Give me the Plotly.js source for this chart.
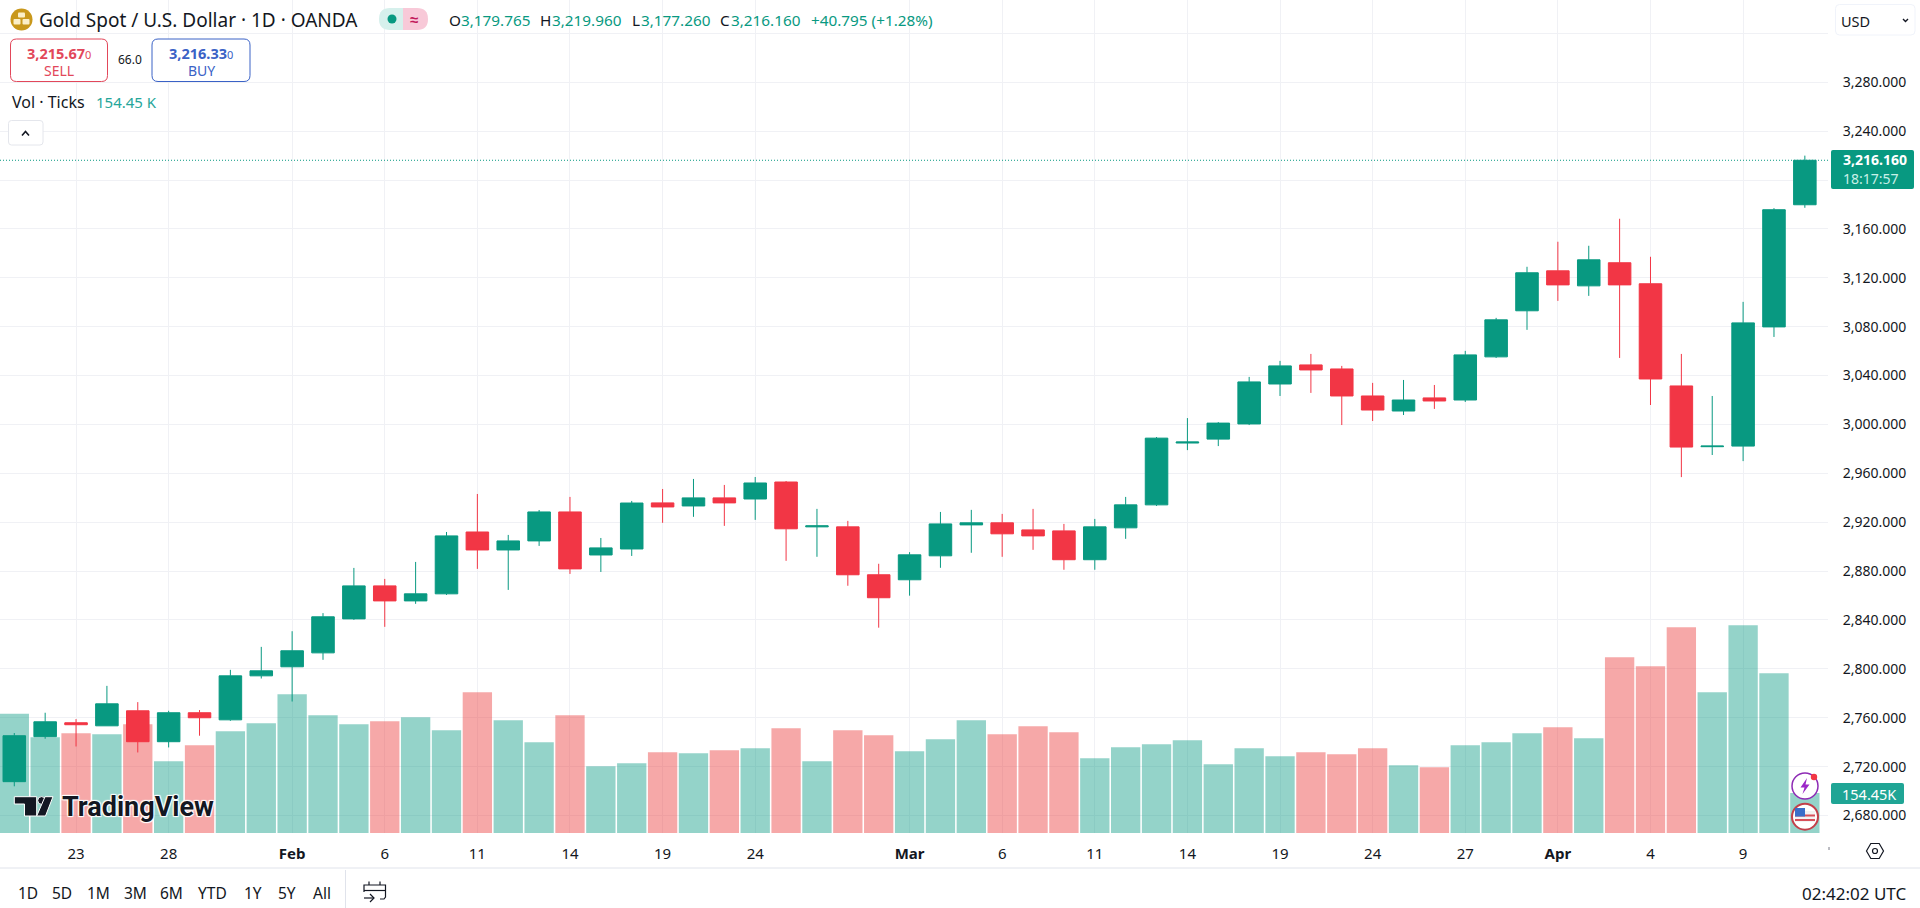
<!DOCTYPE html>
<html>
<head>
<meta charset="utf-8">
<script src="https://cdn.plot.ly/plotly-3.0.1.min.js"></script>
<style>html,body{margin:0;padding:0;background:#fff;overflow:hidden}#c{width:1920px;height:908px}</style>
</head>
<body>
<div id="c"></div>
<script>
const dates = ["Jan 21","Jan 22","Jan 23","Jan 24","Jan 27","Jan 28","Jan 29","Jan 30","Jan 31","Feb 3","Feb 4","Feb 5","Feb 6","Feb 7","Feb 10","Feb 11","Feb 12","Feb 13","Feb 14","Feb 17","Feb 18","Feb 19","Feb 20","Feb 21","Feb 24","Feb 25","Feb 26","Feb 27","Feb 28","Mar 3","Mar 4","Mar 5","Mar 6","Mar 7","Mar 10","Mar 11","Mar 12","Mar 13","Mar 14","Mar 17","Mar 18","Mar 19","Mar 20","Mar 21","Mar 24","Mar 25","Mar 26","Mar 27","Mar 28","Mar 31","Apr 1","Apr 2","Apr 3","Apr 4","Apr 7","Apr 8","Apr 9","Apr 10","Apr 11"];
const opens = [2707.7,2744.5,2755.9,2753.4,2765.7,2740.4,2764.1,2758.3,2794.3,2801.7,2813.1,2840.9,2867.9,2855.6,2861.4,2912,2897.3,2904.7,2928.4,2893.2,2898.1,2935.8,2933.3,2939.9,2939,2952.9,2916.2,2916.2,2877,2872.9,2892.5,2917.8,2919.5,2913.7,2912.9,2889.3,2915.4,2934.2,2984.8,2988,3000.4,3033.1,3048.7,3045.4,3023.3,3011,3021.7,3020,3055.3,3093,3125.7,3113.4,3132.3,3115.1,3031.5,2981.8,2982.3,3079.8,3179.765];
const highs = [2747.5,2764.1,2758.9,2786.1,2772.8,2765.7,2766.3,2799.2,2818,2830.8,2845.6,2882.6,2873.6,2887.5,2912,2943.1,2909.6,2930,2940.7,2907.1,2937.4,2947.2,2955.4,2950.5,2957,2953.7,2930.9,2921.1,2886,2895.5,2928.4,2930.1,2926.8,2930.9,2918.6,2922.7,2940.7,2989.7,3005.2,3001.9,3038.9,3052,3057.7,3047.9,3034,3036.4,3032.3,3060.2,3087.2,3129,3149.5,3146.2,3168.3,3137.2,3057.7,3023.3,3100.3,3177,3219.96];
const lows = [2703.9,2742.8,2736.5,2753.4,2731.6,2735.7,2745.3,2757.5,2792.1,2773.3,2807.4,2840.1,2834.4,2853.2,2860.5,2881.8,2864.6,2900.6,2877.7,2879.3,2892.4,2919.5,2924.4,2917,2921.9,2888.4,2891.7,2868,2833.7,2859.9,2882.7,2895,2891.7,2897.4,2881.1,2881.1,2906.4,2933.3,2979,2982.3,2999.5,3023.3,3025.8,2999.5,3002.8,3007.7,3012.7,3018.4,3054.4,3077.4,3101.1,3105.2,3054.4,3015.9,2956.9,2975,2970,3071.6,3177.26];
const closes = [2745.3,2756.7,2754.3,2771.4,2740.4,2764.1,2760,2794.3,2798.4,2814.8,2842.6,2867.9,2855.6,2861.4,2908.8,2897.3,2904.7,2928.4,2881.8,2899,2935.7,2932.5,2939.9,2935.8,2952.1,2914.6,2917,2877,2858.2,2893.3,2918.6,2919.5,2910.5,2908.8,2889.3,2916.2,2934.2,2988.8,2985.6,3001.1,3034.8,3047.9,3044.6,3023.3,3011.8,3020,3019.2,3056.9,3085.6,3124.1,3114.2,3134.7,3114.2,3037.2,2981.5,2982.3,3083.1,3175.7,3216.16];
const volumes = [460.6,369.3,384.7,380.9,419.5,276.6,338.4,392.4,423.3,535.3,454.2,419.5,431,446.5,396.3,543,434.9,350,454.2,257.3,268.9,311.4,307.5,319.1,326.8,404,276.6,396.3,377,315.2,361.6,434.9,380.9,411.7,388.6,288.2,330.7,342.3,357.7,265.1,326.8,295.9,311.4,303.7,326.8,261.2,253.5,338.4,350,384.7,407.9,365.4,678.1,643.4,793.9,543,801.6,616.3,154.45];
const xTickDates = ["Jan 23","Jan 28","Feb 3","Feb 6","Feb 11","Feb 14","Feb 19","Feb 24","Mar 3","Mar 6","Mar 11","Mar 14","Mar 19","Mar 24","Mar 27","Apr 1","Apr 4","Apr 9"];
const xTickLabels = ["23","28","<b>Feb</b>","6","11","14","19","24","<b>Mar</b>","6","11","14","19","24","27","<b>Apr</b>","4","9"];
const priceTicks = [2680,2720,2760,2800,2840,2880,2920,2960,3000,3040,3080,3120,3160,3200,3240,3280,3320];
const priceLabels = ["2,680.000","2,720.000","2,760.000","2,800.000","2,840.000","2,880.000","2,920.000","2,960.000","3,000.000","3,040.000","3,080.000","3,120.000","3,160.000","","3,240.000","3,280.000",""];
const ranges = ["1D","5D","1M","3M","6M","YTD","1Y","5Y","All"];
const rangeCenters = [27.8,62.4,98.8,135,171,212.6,252.6,287,321.6];
const lastPrice = 3216.16;

const GREEN="#089981",RED="#F23645",INK="#131722",GRID="#F0F1F5";
const FONT='"Noto Sans", sans-serif';
const PW=1828,PH=833;
const px=x=>x/PW, py=y=>1-y/PH;
const P=(x,y)=>px(x)+','+py(y);
const pathS=(d,fill,line,lw)=>({type:'path',xref:'paper',yref:'paper',path:d,fillcolor:fill||'rgba(0,0,0,0)',line:{color:line||'rgba(0,0,0,0)',width:lw===undefined?(line?1:0):lw},layer:'above'});
const rrPath=(x0,y0,x1,y1,r)=>`M${P(x0+r,y0)} L${P(x1-r,y0)} Q${P(x1,y0)} ${P(x1,y0+r)} L${P(x1,y1-r)} Q${P(x1,y1)} ${P(x1-r,y1)} L${P(x0+r,y1)} Q${P(x0,y1)} ${P(x0,y1-r)} L${P(x0,y0+r)} Q${P(x0,y0)} ${P(x0+r,y0)} Z`;
const rr=(x0,y0,x1,y1,r,fill,line,lw)=>pathS(rrPath(x0,y0,x1,y1,r),fill,line,lw);
const poly=(pts,fill,line,lw,open)=>pathS('M'+pts.map(p=>P(p[0],p[1])).join(' L')+(open?'':' Z'),fill,line,lw);
const circ=(cx,cy,r,fill,line,lw)=>({type:'circle',xref:'paper',yref:'paper',x0:px(cx-r),x1:px(cx+r),y0:py(cy+r),y1:py(cy-r),fillcolor:fill||'rgba(0,0,0,0)',line:{color:line||'rgba(0,0,0,0)',width:lw===undefined?(line?1:0):lw},layer:'above'});
const T=(text,x,y,size,color,anchor,extra)=>Object.assign({xref:'paper',yref:'paper',x:px(x),y:py(y),text,showarrow:false,xanchor:anchor||'left',yanchor:'middle',borderpad:0,font:Object.assign({family:FONT,size,color},extra||{})});

const volColors = closes.map((c,i)=>c>=opens[i]?'rgba(8,153,129,0.43)':'rgba(235,62,62,0.45)');

const traces=[
 {type:'bar',x:dates,y:volumes,xaxis:'x',yaxis:'y',marker:{color:volColors,line:{width:0}},hoverinfo:'skip',showlegend:false},
 {type:'candlestick',x:dates,open:opens,high:highs,low:lows,close:closes,xaxis:'x',yaxis:'y2',whiskerwidth:0,
  increasing:{line:{color:GREEN,width:1},fillcolor:GREEN},decreasing:{line:{color:RED,width:1},fillcolor:RED},hoverinfo:'skip',showlegend:false}
];

const shapes=[
 {type:'line',xref:'paper',yref:'y2',x0:0,x1:1,y0:lastPrice,y1:lastPrice,line:{color:GREEN,width:1,dash:'1px,2px'},layer:'above'},
 // price and volume tags
 rr(1831,150,1914,189,2,GREEN),
 rr(1831,783,1904,804,2,'#1FA595'),
 // frame
 poly([[0,868],[1920,868]],null,'#E0E3EB',1,true),
 poly([[345.5,870],[345.5,908]],null,'#E0E3EB',1,true),
 // logo
 circ(21.5,19.5,11,'#C9981B'),
 rr(18,12.5,25,17.5,1,'#FBEFC8'),rr(13.5,19,20.5,24.5,1,'#FBEFC8'),rr(22.5,19,29.5,24.5,1,'#FBEFC8'),
 // status pill
 pathS(`M${P(390,8)} L${P(403,8)} L${P(403,30)} L${P(390,30)} Q${P(379,30)} ${P(379,19)} Q${P(379,8)} ${P(390,8)} Z`,'#D6F0EC'),
 pathS(`M${P(403,8)} L${P(417,8)} Q${P(428,8)} ${P(428,19)} Q${P(428,30)} ${P(417,30)} L${P(403,30)} Z`,'#F8C9D8'),
 circ(392,19,4.5,GREEN),
 // order buttons
 rr(10.5,39,107.5,81.5,6,'#fff','#E2475A',1),
 rr(152,39,250,81.5,6,'#fff','#3A62C6',1),
 // collapse button
 rr(8.5,120.5,43,145,3,'#fff','#E4E6EC',1),
 poly([[22,135.5],[25.5,131.5],[29,135.5]],null,INK,1.6,true),
 // currency button
 rr(1835.5,4.5,1915,35,4,'#fff','#F0F3FA',1),
 poly([[1903,19],[1905.5,21.5],[1908,19]],null,INK,1.4,true),
 // watermark
 poly([[14.3,796.7],[36.7,796.7],[36.7,816],[24.5,816],[24.5,804],[14.3,804]],INK,'#fff',1),
 circ(41.6,800.5,3.9,INK,'#fff',1),
 poly([[45,796.7],[53,796.7],[45.5,816],[36.7,816]],INK,'#fff',1),
 // event icons
 circ(1805,786,13,'#fff','#8E2CB5',1.5),
 poly([[1807,778],[1800.5,787.5],[1804.5,787.5],[1802.5,794],[1809.5,784.5],[1805.5,784.5]],'#9C27C8'),
 circ(1814,777,3.2,'#F23645'),
 circ(1805,816.7,13,'#fff','#C2404A',2),
 rr(1795,811,1815,822,0,'#F3F3F3'),
 rr(1795,814.5,1815,816.5,0,'#D8505A'),rr(1795,819,1815,821,0,'#D8505A'),
 rr(1795,808,1805,816.5,0,'#3A6EC9'),
 // settings hexagon
 poly([[1866.5,851],[1870.8,843.5],[1879.2,843.5],[1883.5,851],[1879.2,858.5],[1870.8,858.5]],null,INK,1.2),
 circ(1875,851,2.5,null,INK,1.2),
 poly([[1829,847],[1829,850]],null,'#787B86',1,true),
 // calendar icon
 poly([[380,899],[384,899],[385.5,897],[385.5,885],[364,885],[364,892]],null,INK,1.2,true),
 poly([[364,890.5],[385.5,890.5]],null,INK,1.2,true),
 poly([[369,881.5],[369,885]],null,INK,1.2,true),poly([[380,881.5],[380,885]],null,INK,1.2,true),
 poly([[364,898],[374,898]],null,INK,1.2,true),poly([[370,894],[374,898],[370,902]],null,INK,1.2,true)
];

const annotations=[
 T('Gold Spot / U.S. Dollar · 1D · OANDA',38,20,19,INK),
 T('≈',414,19,15,'#C2185B','center',{weight:700}),
 T('O',448,20,15.3,INK),T('3,179.765',460,20,15.3,GREEN),
 T('H',539,20,15.3,INK),T('3,219.960',551,20,15.3,GREEN),
 T('L',630.5,20,15.3,INK),T('3,177.260',640,20,15.3,GREEN),
 T('C',719,20,15.3,INK),T('3,216.160',730,20,15.3,GREEN),
 T('+40.795 (+1.28%)',810,20,15.3,GREEN),
 T('<b>3,215.67</b><span style="font-size:11px">0</span>',59,53,14.5,'#E2475A','center'),
 T('SELL',59,70,14,'#E2475A','center'),
 T('66.0',130,60,12,INK,'center'),
 T('<b>3,216.33</b><span style="font-size:11px">0</span>',201,53,14.5,'#3A62C6','center'),
 T('BUY',201,70,14,'#3A62C6','center'),
 T('Vol · Ticks',11,102,16,INK),
 T('154.45 K',95,102,15,'#26A69A'),
 T('USD',1840,21,14.5,INK),
 T('<b>3,216.160</b>',1842,160,14,'#fff'),
 T('18:17:57',1842,178,14,'#C8F0E8'),
 T('154.45K',1841,793.5,14.5,'#fff'),
 T('<b>TradingView</b>',61,807,27,INK,'left',{family:'Roboto, sans-serif',shadow:'1px 1px 1px #fff, -1px -1px 1px #fff, 1px -1px 1px #fff, -1px 1px 1px #fff'}),
 T('02:42:02 UTC',1907,893,17,INK,'right')
].concat(ranges.map((r,i)=>T(r,rangeCenters[i],893,15.5,INK,'center')));

const layout={
 width:1920,height:908,margin:{l:0,r:92,t:0,b:75,pad:0},
 paper_bgcolor:'#fff',plot_bgcolor:'#fff',font:{family:FONT,color:INK,size:14},
 showlegend:false,hovermode:false,bargap:0.05,boxgap:0.27,boxgroupgap:0,boxmode:'overlay',
 xaxis:{type:'category',categoryorder:'array',categoryarray:dates,range:[-0.463,58.75],showgrid:true,gridcolor:GRID,gridwidth:1,
  tickmode:'array',tickvals:xTickDates,ticktext:xTickLabels,ticks:'outside',ticklen:7,tickcolor:'rgba(0,0,0,0)',showline:false,zeroline:false,
  rangeslider:{visible:false},tickfont:{family:FONT,size:15,color:INK},automargin:false,fixedrange:true,tickangle:0},
 yaxis:{range:[0,3215],showgrid:false,zeroline:false,showline:false,showticklabels:false,ticks:'',fixedrange:true},
 yaxis2:{overlaying:'y',side:'right',range:[2665.7,3347.3],tickmode:'array',tickvals:priceTicks,ticktext:priceLabels,showgrid:true,gridcolor:GRID,gridwidth:1,
  zeroline:false,showline:false,ticks:'outside',ticklen:11,tickcolor:'rgba(0,0,0,0)',tickfont:{family:FONT,size:14,color:INK},automargin:false,fixedrange:true},
 shapes,annotations
};
Plotly.newPlot('c',traces,layout,{displayModeBar:false,staticPlot:true,responsive:false});
</script>
</body>
</html>
